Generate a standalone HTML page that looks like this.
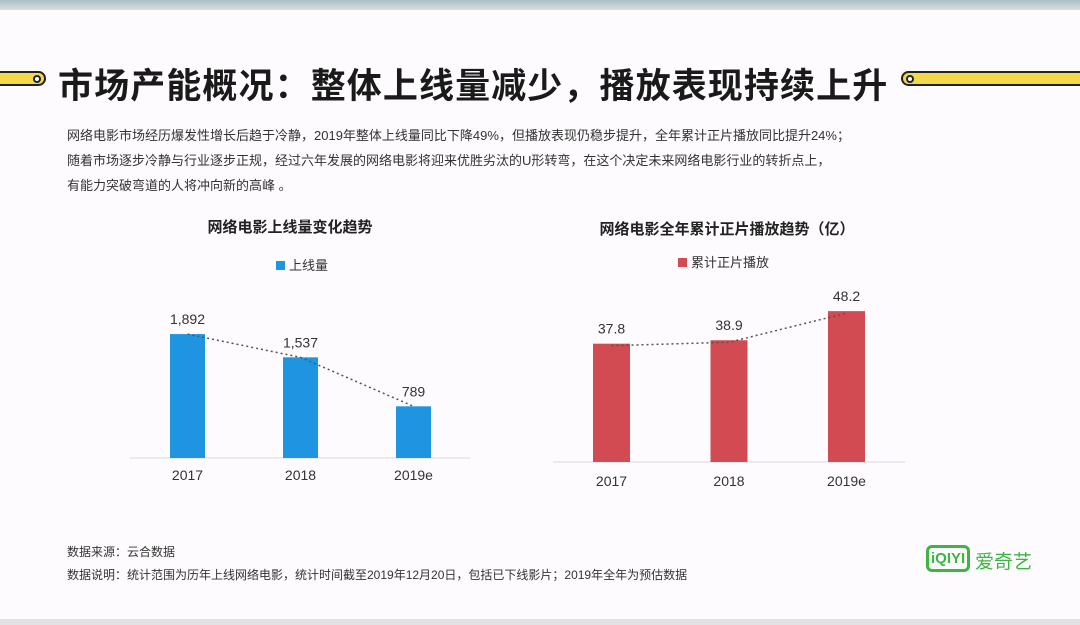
<!DOCTYPE html>
<html><head><meta charset="utf-8">
<style>
*{margin:0;padding:0;box-sizing:border-box}
body{width:1080px;height:625px;background:#fdfbfd;position:relative;overflow:hidden;font-family:"Liberation Sans","Noto Sans CJK SC",sans-serif;color:#222}
.abs{position:absolute;white-space:nowrap}
</style></head><body>
<div class="abs" style="left:0;top:0;width:1080px;height:10px;background:linear-gradient(#a9c0c6,#dcdde0)"></div>
<div class="abs" style="left:0;top:619px;width:1080px;height:6px;background:#e2e1e4"></div>
<div class="abs" style="left:-10px;top:71px;width:56px;height:15px;background:#f2d84a;border:2px solid #222;border-radius:8px"><div style="position:absolute;right:3px;top:2px;width:8px;height:8px;border:2px solid #222;border-radius:50%;background:#fff"></div></div>
<div class="abs" style="left:901px;top:71px;width:200px;height:15px;background:#f2d84a;border:2px solid #222;border-radius:8px"><div style="position:absolute;left:3px;top:2px;width:8px;height:8px;border:2px solid #222;border-radius:50%;background:#fff"></div></div>
<div class="abs" style="left:58px;top:58px;font-size:35px;font-weight:bold;letter-spacing:1.1px;color:#1a1a1a">市场产能概况：整体上线量减少，播放表现持续上升</div>
<div class="abs" style="left:67px;top:123px;font-size:13px;line-height:25px;color:#333">网络电影市场经历爆发性增长后趋于冷静，2019年整体上线量同比下降49%，但播放表现仍稳步提升，全年累计正片播放同比提升24%；<br>随着市场逐步冷静与行业逐步正规，经过六年发展的网络电影将迎来优胜劣汰的U形转弯，在这个决定未来网络电影行业的转折点上，<br>有能力突破弯道的人将冲向新的高峰 。</div>
<svg id="chart" class="abs" style="left:0;top:0" width="1080" height="625"></svg>
<div class="abs" style="left:67px;top:543px;font-size:12px;color:#333">数据来源：云合数据</div>
<div class="abs" style="left:67px;top:566px;font-size:12px;color:#333">数据说明：统计范围为历年上线网络电影，统计时间截至2019年12月20日，包括已下线影片；2019年全年为预估数据</div>
<div class="abs" style="left:926px;top:545px;height:27px;padding:0 2px;border:3px solid #3cb543;border-radius:6px;font-size:15px;font-weight:bold;color:#3cb543;line-height:21px">iQIYI</div>
<div class="abs" style="left:975px;top:547px;font-size:19px;color:#3cb543">爱奇艺</div>
<script>
const categories=["2017","2018","2019e"];
const releaseValues=[1892,1537,789];
const releaseLabels=["1,892","1,537","789"];
const playValues=[37.8,38.9,48.2];
const playLabels=["37.8","38.9","48.2"];
const svg=document.getElementById('chart');
const NS='http://www.w3.org/2000/svg';
function mk(t,a,txt){const e=document.createElementNS(NS,t);for(const k in a)e.setAttribute(k,a[k]);if(txt!==undefined)e.textContent=txt;svg.appendChild(e);return e;}
function drawChart(o){
  const x=i=>o.x0+i*o.step; const y=v=>o.base-v*o.scale;
  let e=mk('text',{x:o.cx,y:o.titleY,'text-anchor':'middle','font-size':15,'font-weight':'bold',fill:'#222'},o.title);
  
  
  e=mk('rect',{x:o.legX,y:o.legY-9,width:9,height:9,fill:o.color});
  
  
  e=mk('text',{x:o.legX+13,y:o.legY,'font-size':13,fill:'#333'},o.legend);
  
  
  e=mk('line',{x1:o.axL,x2:o.axR,y1:o.base,y2:o.base,stroke:'#d8d8dc','stroke-width':1});
  
  
  const pts=[];
  o.values.forEach((v,i)=>{
    const b=mk('rect',{x:x(i),y:y(v),width:o.bw,height:o.base-y(v),fill:o.color});
    
    
    const l=mk('text',{x:x(i)+o.bw/2,y:y(v)-10,'text-anchor':'middle','font-size':14,fill:'#333'},o.labels[i]);
    
    
    const c=mk('text',{x:x(i)+o.bw/2,y:o.catY,'text-anchor':'middle','font-size':14,fill:'#333'},categories[i]);
    
    
    pts.push((x(i)+o.bw/2)+','+(y(v)-o.lineOff));
  });
  e=mk('polyline',{points:pts.join(' '),fill:'none',stroke:'#555','stroke-width':1.5,'stroke-dasharray':'2,3'});
  
  
}
drawChart({key:'release',values:releaseValues,labels:releaseLabels,x0:170,step:113,bw:35,base:458,scale:0.0655,color:'#1f95e2',
  title:'网络电影上线量变化趋势',cx:290,titleY:232,legX:276,legY:270,legend:'上线量',axL:130,axR:470,catY:480,lineOff:0});
drawChart({key:'play',values:playValues,labels:playLabels,x0:593,step:117.5,bw:37,base:462,scale:3.13,color:'#d24a52',
  title:'网络电影全年累计正片播放趋势（亿）',cx:727,titleY:234,legX:678,legY:267,legend:'累计正片播放',axL:553,axR:905,catY:486,lineOff:-2});
</script>
</body></html>
